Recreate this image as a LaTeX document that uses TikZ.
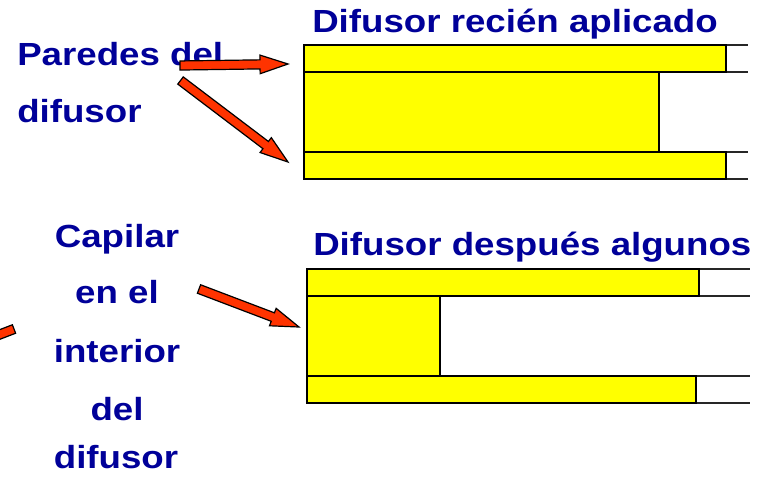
\documentclass[tikz,border=0pt]{standalone}
\usepackage{fontspec}
\setmainfont{Liberation Sans}
\usetikzlibrary{calc}
\definecolor{navy}{RGB}{0,0,153}
\definecolor{arrowred}{RGB}{255,51,0}
\definecolor{baryellow}{RGB}{255,255,0}
\newcommand\wide[1]{\scalebox{1.146}[1]{#1}}
\newcommand\blockarrow[2]{%
  \coordinate (hb) at ($(#2)!21pt!(#1)$);
  \draw[blockarrowstyle] ($(#1)!3.4pt!90:(#2)$) -- ($(hb)!3.4pt!-90:(#1)$) -- ($(hb)!7pt!-90:(#1)$) -- (#2) -- ($(hb)!7pt!90:(#1)$) -- ($(hb)!3.4pt!90:(#1)$) -- ($(#1)!3.4pt!-90:(#2)$) -- cycle;}
\tikzset{
  lbl/.style={inner sep=0pt, text=navy, font=\fontsize{24}{24}\selectfont\bfseries},
  blockarrowstyle/.style={draw=black, fill=arrowred, line width=0.9pt, line join=miter},
  bar/.style={draw=black, fill=baryellow, line width=1.5pt},
  ext/.style={draw=black!85, line width=1pt},
}
\begin{document}
\begin{tikzpicture}[x=0.75pt,y=-0.75pt]
\useasboundingbox (0,0) rectangle (760,479);
% texts
\node[lbl, anchor=base west] (pared1) at (17,65) {\wide{Paredes del}};
\node[lbl, anchor=base west] (pared2) at (17,122) {\wide{difusor}};
\node[lbl, anchor=base west] (title1) at (312,32) {\wide{Difusor recién aplicado}};
\node[lbl, anchor=base west] (title2) at (313,255) {\wide{Difusor después algunos}};
\node[lbl, anchor=base] (cap1) at (117,247) {\wide{Capilar}};
\node[lbl, anchor=base] (cap2) at (117,303) {\wide{en el}};
\node[lbl, anchor=base] (cap3) at (117,362) {\wide{interior}};
\node[lbl, anchor=base] (cap4) at (117,420) {\wide{del}};
\node[lbl, anchor=base] (cap5) at (116,468) {\wide{difusor}};
% top diffuser
\draw[ext] (304,45) -- (748,45);
\draw[ext] (304,72) -- (748,72);
\draw[ext] (304,152) -- (748,152);
\draw[ext] (304,179) -- (748,179);
\path[bar] (304,45) rectangle (726,72);
\path[bar] (304,72) rectangle (659,152);
\path[bar] (304,152) rectangle (726,179);
% bottom diffuser
\draw[ext] (307,269) -- (750,269);
\draw[ext] (307,296) -- (750,296);
\draw[ext] (307,376) -- (750,376);
\draw[ext] (307,403) -- (750,403);
\path[bar] (307,269) rectangle (699,296);
\path[bar] (307,296) rectangle (440,376);
\path[bar] (307,376) rectangle (696,403);
% arrows
\coordinate (a1t) at (180,65.5);
\coordinate (a1h) at (288,64);
\coordinate (a2t) at (180.5,80.5);
\coordinate (a2h) at (288,162);
\coordinate (a3t) at (199,289);
\coordinate (a3h) at (299,327);
\coordinate (a4t) at (14,329);
\coordinate (a4h) at (-90,369);
\blockarrow{a1t}{a1h}
\blockarrow{a2t}{a2h}
\blockarrow{a3t}{a3h}
\begin{scope}
\clip (0,0) rectangle (760,479);
\blockarrow{a4t}{a4h}
\end{scope}
\end{tikzpicture}
\end{document}
